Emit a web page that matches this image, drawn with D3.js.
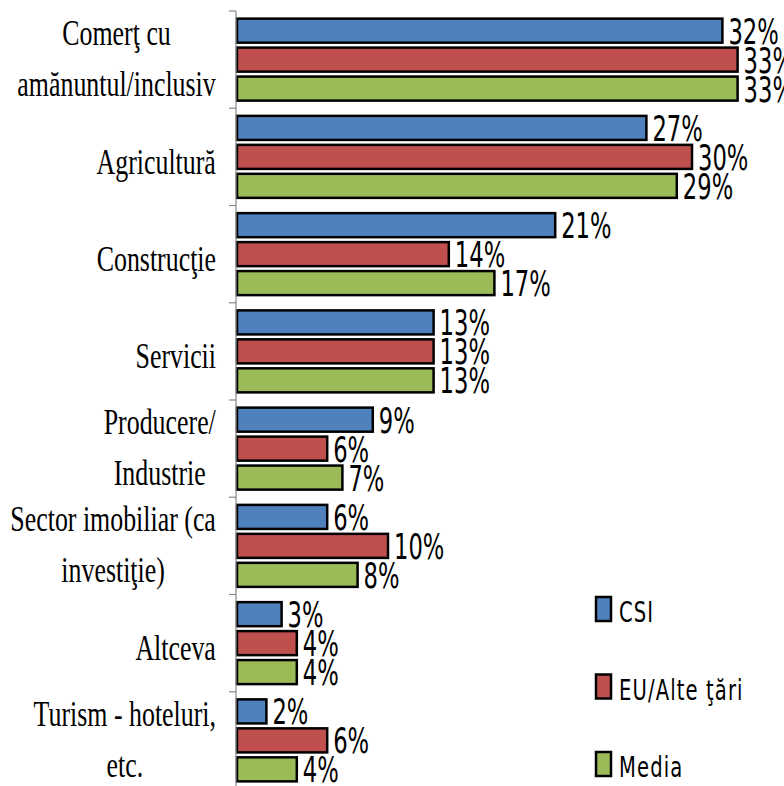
<!DOCTYPE html>
<html>
<head>
<meta charset="utf-8">
<script src="https://cdn.jsdelivr.net/npm/d3@7"></script>
<style>
  body { margin: 0; background: #fff; }
</style>
</head>
<body>
<div id="container"></div>
<script>
/* DATA */
const categories = [
  "Comerţ cu\namănuntul/inclusiv",
  "Agricultură",
  "Construcţie",
  "Servicii",
  "Producere/\nIndustrie",
  "Sector imobiliar (ca\ninvestiţie)",
  "Altceva",
  "Turism - hoteluri,\netc."
];
const seriesNames = ["CSI", "EU/Alte ţări", "Media"];
const csiValues   = [32, 27, 21, 13, 9, 6, 3, 2];
const euValues    = [33, 30, 14, 13, 6, 10, 4, 6];
const mediaValues = [33, 29, 17, 13, 7, 8, 4, 4];
const seriesColors = ["#4F81BD", "#C0504D", "#9BBB59"];

/* CONSTANTS */
const width = 784, height = 786;
const axisX = 236;
const labelRight = 216;

const table = categories.map((c, i) => ({
  category: c,
  values: [csiValues[i], euValues[i], mediaValues[i]]
}));

// scales
const yScale = d3.scaleBand()
  .domain(categories)
  .range([11, 789])
  .paddingInner(0.157)
  .paddingOuter(0.0785);

const ySeries = d3.scaleBand()
  .domain(seriesNames)
  .range([0, yScale.bandwidth()])
  .paddingInner(0.17);

const xScale = d3.scaleLinear()
  .domain([0, 35])
  .range([axisX, axisX + 35 * 15.2]);

const colorScale = d3.scaleOrdinal()
  .domain(seriesNames)
  .range(seriesColors);

const svg = d3.select("#container")
  .append("svg")
  .attr("width", width)
  .attr("height", height)
  .style("display", "block");

// bars
const groups = svg.selectAll("g.group")
  .data(table)
  .join("g")
  .attr("class", "group")
  .attr("transform", d => `translate(0,${yScale(d.category)})`);

groups.selectAll("rect")
  .data(d => d.values.map((v, j) => ({ series: seriesNames[j], value: v })))
  .join("rect")
  .attr("x", xScale(0) + 1)
  .attr("y", d => ySeries(d.series))
  .attr("width", d => xScale(d.value) - xScale(0) - 1)
  .attr("height", ySeries.bandwidth())
  .attr("fill", d => colorScale(d.series))
  .attr("stroke", "#000")
  .attr("stroke-width", 2.5);

// value labels
groups.selectAll("text.value")
  .data(d => d.values.map((v, j) => ({ series: seriesNames[j], value: v })))
  .join("text")
  .attr("class", "value")
  .attr("transform", d => `translate(${xScale(d.value) + 6},${ySeries(d.series) + ySeries.bandwidth() + 1}) scale(0.7,1)`)
  .attr("font-family", "'Liberation Sans Narrow', 'DejaVu Sans Condensed', sans-serif")
  .attr("font-size", 36)
  .attr("fill", "#000")
  .text(d => d.value + "%");

// y axis line
svg.append("g")
  .attr("transform", `translate(${axisX},0)`)
  .call(d3.axisLeft(yScale).tickSize(0).tickFormat(""))
  .call(g => g.select(".domain").attr("stroke", "#888").attr("stroke-width", 1.2)
    .attr("d", `M0,${yScale.range()[0]}V${height + 10}`));

// boundary ticks between categories
const boundaries = d3.range(categories.length + 1).map(i => yScale.range()[0] + i * yScale.step());
svg.selectAll("line.tick")
  .data(boundaries)
  .join("line")
  .attr("class", "tick")
  .attr("x1", axisX - 7)
  .attr("x2", axisX)
  .attr("y1", d => d)
  .attr("y2", d => d)
  .attr("stroke", "#888")
  .attr("stroke-width", 1.2);

// category labels
const catLabels = svg.selectAll("g.catlabel")
  .data(categories)
  .join("g")
  .attr("class", "catlabel");

catLabels.each(function(c) {
  const lines = c.split("\n");
  const g = d3.select(this);
  const t = g.append("text")
    .attr("transform", "scale(0.74,1)")
    .attr("text-anchor", "middle")
    .attr("font-family", "'Liberation Serif', 'Times New Roman', serif")
    .attr("font-size", 35)
    .attr("fill", "#000");
  const n = lines.length;
  t.selectAll("tspan")
    .data(lines)
    .join("tspan")
    .attr("x", 0)
    .attr("y", (l, i) => n === 1 ? 17 : 11 + (i - (n - 1) / 2) * 51)
    .text(l => l);
  const w = t.node().getBBox().width * 0.74;
  const cy = yScale(c) + yScale.bandwidth() / 2;
  g.attr("transform", `translate(${labelRight - w / 2},${cy})`);
});

// legend
const legend = svg.selectAll("g.legend")
  .data(seriesNames)
  .join("g")
  .attr("class", "legend")
  .attr("transform", (d, i) => `translate(596,${597 + i * 77.5})`);

legend.append("rect")
  .attr("width", 15)
  .attr("height", 24)
  .attr("fill", d => colorScale(d))
  .attr("stroke", "#000")
  .attr("stroke-width", 2.5);

legend.append("text")
  .attr("transform", "translate(23,25) scale(0.75,1)")
  .attr("font-family", "'Liberation Sans Narrow', 'DejaVu Sans Condensed', sans-serif")
  .attr("font-size", 29)
  .attr("letter-spacing", 1.5)
  .attr("fill", "#000")
  .text(d => d);
</script>
</body>
</html>
